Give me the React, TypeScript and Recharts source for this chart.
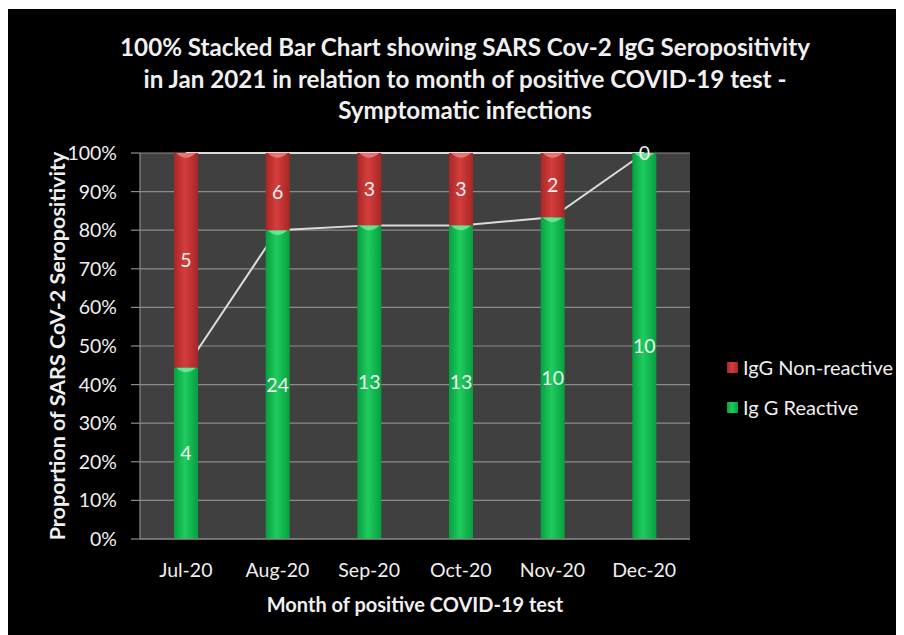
import React from 'react';
import { ComposedChart, Bar, Line, XAxis, YAxis, CartesianGrid, LabelList } from 'recharts';

const months = ['Jul-20', 'Aug-20', 'Sep-20', 'Oct-20', 'Nov-20', 'Dec-20'];
const reactiveCounts = [4, 24, 13, 13, 10, 10];
const nonReactiveCounts = [5, 6, 3, 3, 2, 0];
const yTicks = [0, 10, 20, 30, 40, 50, 60, 70, 80, 90, 100];

const titleLines = [
  '100% Stacked Bar Chart showing SARS Cov-2 IgG Seropositivity',
  'in Jan 2021 in relation to month of positive COVID-19 test -',
  'Symptomatic infections',
];

const data = months.map((m, i) => {
  const r = reactiveCounts[i];
  const n = nonReactiveCounts[i];
  const t = r + n;
  return {
    month: m,
    reactive: (r / t) * 100,
    nonReactive: (n / t) * 100,
    reactiveN: r,
    nonReactiveN: n,
    total: ((r + n) / t) * 100,
  };
});

const FONT = 'Lato, "Open Sans", sans-serif';
const TEXT = '#f0f0f0';
const GRID = '#8c8c8c';

const makeShape = (gradId: string, cap: string) => (props: any) => {
  const { x, y, width, height } = props;
  if (!height || height <= 0) return <g />;
  const capH = Math.min(8, height);
  return (
    <g>
      <rect x={x} y={y} width={width} height={height} fill={`url(#${gradId})`} />
      <path
        d={`M${x + 2},${y} L${x + width - 2},${y} Q${x + width / 2},${y + capH * 1.2} ${x + 2},${y} Z`}
        fill={cap}
        opacity={0.75}
      />
    </g>
  );
};

const greenShape = makeShape('gradGreen', '#7ff0a8');
const redShape = makeShape('gradRed', '#f08a8a');

export default function App() {
  return (
    <div
      style={{
        position: 'relative',
        width: 897,
        height: 626,
        marginLeft: -1,
        marginTop: 1,
        background: '#000',
        overflow: 'hidden',
        fontFamily: FONT,
      }}
    >
      <svg width={0} height={0} style={{ position: 'absolute' }}>
        <defs>
          <linearGradient id="gradGreen" x1="0" y1="0" x2="1" y2="0">
            <stop offset="0%" stopColor="#06a040" />
            <stop offset="45%" stopColor="#1fcc5e" />
            <stop offset="100%" stopColor="#06a040" />
          </linearGradient>
          <linearGradient id="gradRed" x1="0" y1="0" x2="1" y2="0">
            <stop offset="0%" stopColor="#a82626" />
            <stop offset="45%" stopColor="#d43e3c" />
            <stop offset="100%" stopColor="#a82626" />
          </linearGradient>
        </defs>
      </svg>

      {titleLines.map((t, i) => (
        <div
          key={i}
          style={{
            position: 'absolute',
            left: 0,
            width: 916,
            top: 22 + i * 31.5,
            textAlign: 'center',
            color: TEXT,
            fontWeight: 700,
            fontSize: 24.2,
            lineHeight: '32px',
            whiteSpace: 'nowrap',
          }}
        >
          {t}
        </div>
      ))}

      <ComposedChart
        width={897}
        height={626}
        data={data}
        margin={{ top: 144, right: 214, bottom: 0, left: 0 }}
        barSize={24}
      >
        <CartesianGrid vertical={false} fill="#404040" stroke={GRID} strokeWidth={1.2} />
        <XAxis
          dataKey="month"
          height={96}
          interval={0}
          tickLine={false}
          tickSize={0}
          tickMargin={24}
          axisLine={{ stroke: GRID, strokeWidth: 1.2 }}
          tick={{ fill: TEXT, fontSize: 19.5, fontFamily: FONT }}
        />
        <YAxis
          type="number"
          domain={[0, 100]}
          ticks={yTicks}
          interval={0}
          width={133}
          tickSize={9}
          tickMargin={14}
          tickFormatter={(v: number) => `${v}%`}
          tickLine={{ stroke: GRID, strokeWidth: 1.2 }}
          axisLine={{ stroke: GRID, strokeWidth: 1.2 }}
          tick={{ fill: TEXT, fontSize: 19.5, fontFamily: FONT }}
        />
        <Line
          type="linear"
          dataKey="total"
          stroke="#dcdcdc"
          strokeWidth={2}
          dot={false}
          activeDot={false}
          isAnimationActive={false}
          zIndex={250}
        />
        <Line
          type="linear"
          dataKey="reactive"
          stroke="#dcdcdc"
          strokeWidth={2}
          dot={false}
          activeDot={false}
          isAnimationActive={false}
          zIndex={250}
        />
        <Bar dataKey="reactive" stackId="a" shape={greenShape} isAnimationActive={false}>
          <LabelList
            dataKey="reactiveN"
            position="center"
            fill={TEXT}
            fontSize={19.5}
            fontFamily={FONT}
          />
        </Bar>
        <Bar dataKey="nonReactive" stackId="a" shape={redShape} isAnimationActive={false}>
          <LabelList
            dataKey="nonReactiveN"
            position="center"
            fill={TEXT}
            fontSize={19.5}
            fontFamily={FONT}
          />
        </Bar>
      </ComposedChart>

      <div
        style={{
          position: 'absolute',
          left: 50,
          top: 337,
          transform: 'translate(-50%, -50%) rotate(-90deg)',
          color: TEXT,
          fontWeight: 700,
          fontSize: 21.5,
          whiteSpace: 'nowrap',
        }}
      >
        Proportion of SARS CoV-2 Seropositivity
      </div>

      <div
        style={{
          position: 'absolute',
          left: 133,
          width: 550,
          top: 583,
          textAlign: 'center',
          color: TEXT,
          fontWeight: 700,
          fontSize: 20,
          lineHeight: '24px',
          whiteSpace: 'nowrap',
        }}
      >
        Month of positive COVID-19 test
      </div>

      <div style={{ position: 'absolute', left: 720, top: 338, color: TEXT, fontSize: 20 }}>
        {[
          { name: 'IgG Non-reactive', grad: 'gradRed' },
          { name: 'Ig G Reactive', grad: 'gradGreen' },
        ].map((e) => (
          <div key={e.name} style={{ display: 'flex', alignItems: 'center', height: 40 }}>
            <svg width={11} height={11} style={{ marginRight: 5 }}>
              <rect x={0} y={0} width={11} height={11} fill={`url(#${e.grad})`} />
            </svg>
            <span style={{ whiteSpace: 'nowrap' }}>{e.name}</span>
          </div>
        ))}
      </div>
    </div>
  );
}
